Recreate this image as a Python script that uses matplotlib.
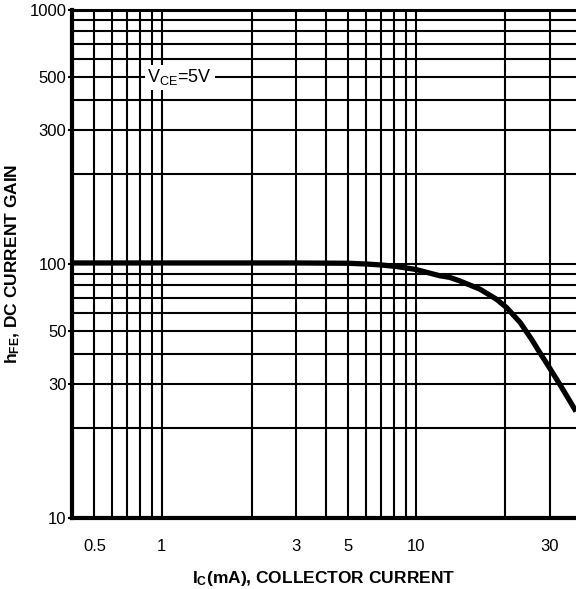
import numpy as np
import matplotlib
matplotlib.use("Agg")
import matplotlib.pyplot as plt
from matplotlib.ticker import FixedLocator, FixedFormatter, NullFormatter

# ---- data ----
ic_ma = [0.4, 1.0, 3.0, 5.0, 6.0, 7.0, 8.2, 10.0, 11.8, 12.7, 13.7,
         16.1, 18.5, 20.2, 22.8, 25.3, 27.3, 29.6, 33.0, 38.2, 38.6]
hfe = [100.7, 100.7, 100.7, 100.5, 100, 99, 97.4, 94.5, 88.5, 87, 83.9,
       77.0, 69.4, 63.7, 54.7, 46.2, 40.5, 35.5, 29.8, 23.6, 23.2]

x_tick_values = [0.5, 1, 3, 5, 10, 30]
x_tick_labels = ["0.5", "1", "3", "5", "10", "30"]
y_tick_values = [10, 30, 50, 100, 300, 500, 1000]
y_tick_labels = ["10", "30", "50", "100", "300", "500", "1000"]
x_limits = (0.4, 38.6)
y_limits = (10, 1000)

# ---- graph-paper scale (log-like ruling of the original datasheet) ----
OFF = 0.4
BASE = (10 - OFF) / (1 - OFF)


def fwd(v):
    v = np.asarray(v, dtype=float)
    pos = v > 0
    vv = np.where(pos, v, 1.0)
    d = np.floor(np.log10(vv) + 1e-9)
    m = np.clip(vv / 10.0 ** d, 1.0, 10.0)
    u = d + np.log((m - OFF) / (1 - OFF)) / np.log(BASE)
    return np.where(pos, u, -1000.0)


def inv(u):
    u = np.asarray(u, dtype=float)
    d = np.floor(u + 1e-12)
    f = u - d
    m = OFF + (1 - OFF) * BASE ** f
    return m * 10.0 ** d


plt.rcParams["font.family"] = ["Liberation Sans", "DejaVu Sans"]
plt.rcParams["mathtext.fontset"] = "custom"
plt.rcParams["mathtext.rm"] = "Liberation Sans"
plt.rcParams["mathtext.bf"] = "Liberation Sans:bold"
plt.rcParams["mathtext.it"] = "Liberation Sans:italic"

fig = plt.figure(figsize=(5.76, 5.89), dpi=100)
ax = fig.add_axes([0.125, 0.1205, 0.875, 0.8625])

ax.set_xscale("function", functions=(fwd, inv))
ax.set_yscale("function", functions=(fwd, inv))
ax.set_xlim(*x_limits)
ax.set_ylim(*y_limits)

x_grid = [m * 10.0 ** d for d in (-1, 0, 1) for m in range(1, 10)]
x_grid = [g for g in x_grid if x_limits[0] < g < x_limits[1]]
y_grid = [m * 10.0 ** d for d in (1, 2) for m in range(1, 10)] + [1000]

ax.xaxis.set_major_locator(FixedLocator(x_tick_values))
ax.xaxis.set_major_formatter(FixedFormatter(x_tick_labels))
ax.xaxis.set_minor_locator(FixedLocator(x_grid))
ax.xaxis.set_minor_formatter(NullFormatter())
ax.yaxis.set_major_locator(FixedLocator(y_tick_values))
ax.yaxis.set_major_formatter(FixedFormatter(y_tick_labels))
ax.yaxis.set_minor_locator(FixedLocator(y_grid))
ax.yaxis.set_minor_formatter(NullFormatter())

ax.grid(which="both", color="black", linewidth=1.5)

ax.plot(ic_ma, hfe, color="black", linewidth=3.8, solid_capstyle="butt",
        solid_joinstyle="round", zorder=3)

for side, lw in (("left", 3.0), ("bottom", 3.0), ("top", 2.2)):
    ax.spines[side].set_linewidth(lw)
    ax.spines[side].set_color("black")
ax.spines["right"].set_visible(False)

ax.tick_params(axis="x", which="both", length=0, pad=15, labelsize=12)
ax.tick_params(axis="y", which="major", length=3, width=1.5, pad=1, labelsize=12)
ax.tick_params(axis="y", which="minor", length=0)

ax.text(0.86, 500, r"V$_{\mathregular{CE}}$=5V", fontsize=13,
        ha="left", va="center", zorder=4,
        bbox=dict(facecolor="white", edgecolor="none", pad=2))

ax.set_xlabel(r"I$_{\mathregular{C}}$(mA), COLLECTOR CURRENT",
              fontsize=12.5, fontweight="bold")
ax.set_ylabel(r"h$_{\mathregular{FE}}$, DC CURRENT GAIN",
              fontsize=12.5, fontweight="bold")
ax.xaxis.set_label_coords(0.5, -0.10)
ax.yaxis.set_label_coords(-0.10, 0.5)

fig.savefig("out.png", dpi=100)
